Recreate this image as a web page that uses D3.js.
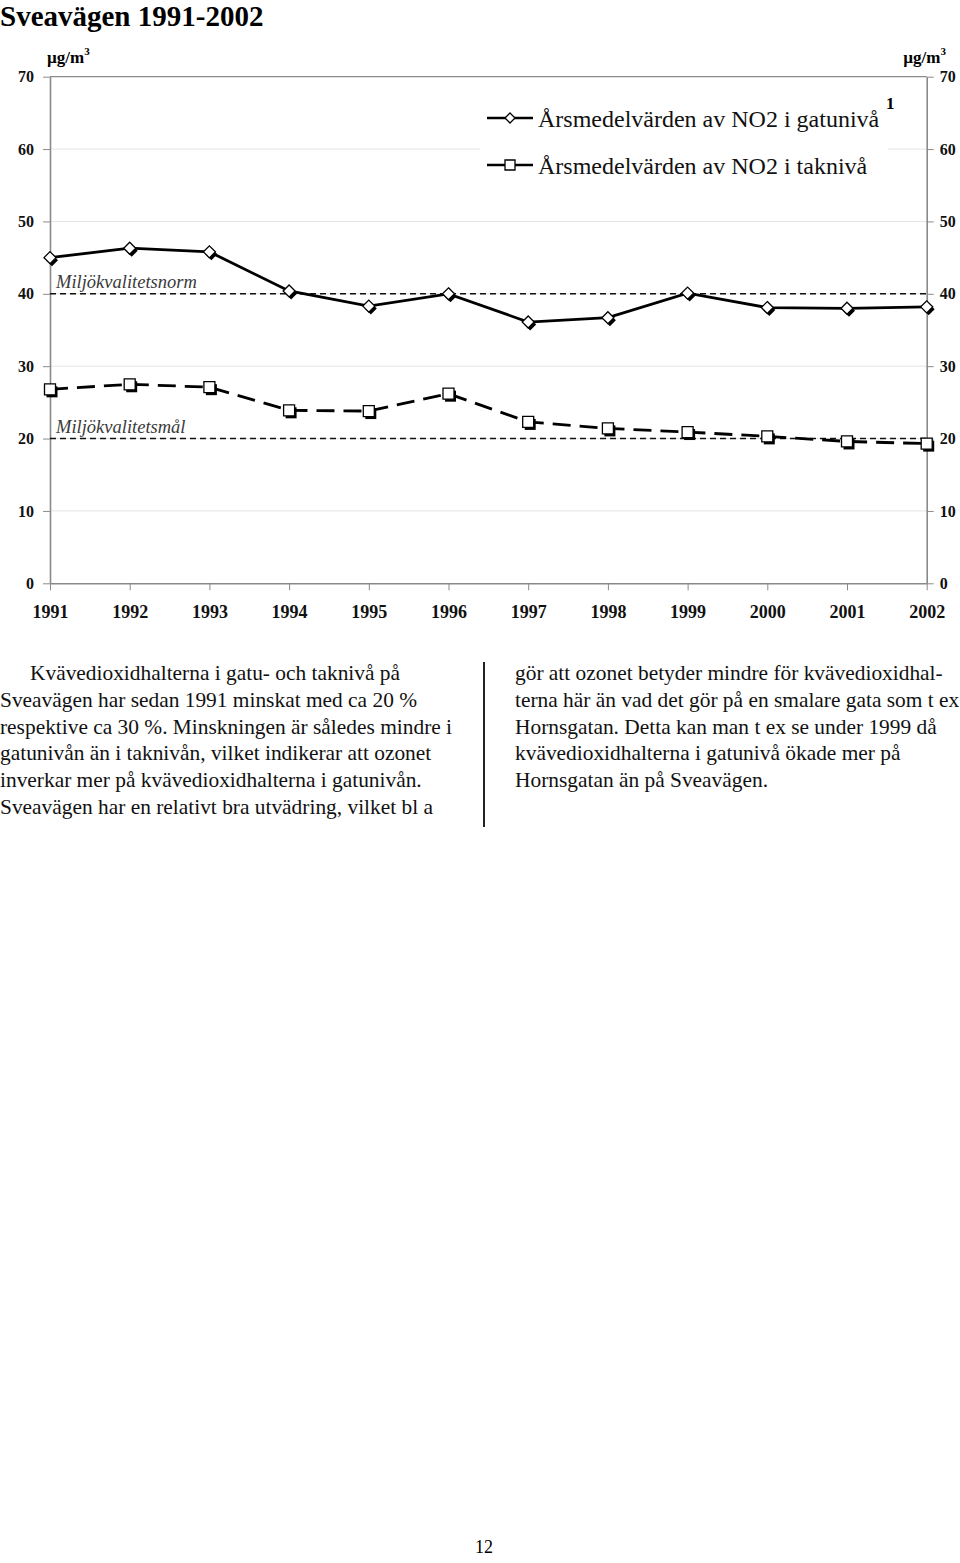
<!DOCTYPE html>
<html><head><meta charset="utf-8">
<script src="https://cdn.jsdelivr.net/npm/d3@7"></script>
<style>
html,body{margin:0;padding:0;background:#fff;}
svg{display:block;font-family:"Liberation Serif","Times New Roman",serif;}
</style></head>
<body>
<svg id="c" width="960" height="1563"></svg>
<script>
// ---- data ----
const years = [1991,1992,1993,1994,1995,1996,1997,1998,1999,2000,2001,2002];
const gatuniva = [45.0,46.3,45.8,40.4,38.3,40.0,36.1,36.7,40.1,38.1,38.0,38.2];
const takniva  = [26.8,27.5,27.1,23.9,23.8,26.2,22.3,21.4,20.9,20.3,19.6,19.3];
const yTicks = [0,10,20,30,40,50,60,70];
const normValue = 40;
const malValue = 20;
const title = "Sveavägen 1991-2002";
const seriesNames = ["Årsmedelvärden av NO2 i gatunivå","Årsmedelvärden av NO2 i taknivå"];
const refLabels = ["Miljökvalitetsnorm","Miljökvalitetsmål"];
const leftText = [
 "Kvävedioxidhalterna i gatu- och taknivå på",
 "Sveavägen har sedan 1991 minskat med ca 20 %",
 "respektive ca 30 %. Minskningen är således mindre i",
 "gatunivån än i taknivån, vilket indikerar att ozonet",
 "inverkar mer på kvävedioxidhalterna i gatunivån.",
 "Sveavägen har en relativt bra utvädring, vilket bl a"
];
const rightText = [
 "gör att ozonet betyder mindre för kvävedioxidhal-",
 "terna här än vad det gör på en smalare gata som t ex",
 "Hornsgatan. Detta kan man t ex se under 1999 då",
 "kvävedioxidhalterna i gatunivå ökade mer på",
 "Hornsgatan än på Sveavägen."
];
const pageNumber = "12";

// ---- layout ----
const svg = d3.select("#c");
const X0 = 50, X1 = 926.7, Y0 = 583.3, Y1 = 76.7;
const x = d3.scaleLinear().domain([1991,2002]).range([X0,X1]);
const y = d3.scaleLinear().domain([0,70]).range([Y0,Y1]);
const axisGray = "#8a8a8a";

svg.append("text").attr("x",0).attr("y",26).attr("font-size",29).attr("font-weight","bold").text(title);

// gridlines
svg.append("g").selectAll("line").data(yTicks.filter(d=>d>0 && d<70)).join("line")
  .attr("x1",X0).attr("x2",X1).attr("y1",d=>y(d)).attr("y2",d=>y(d))
  .attr("stroke","#e4e4e4").attr("stroke-width",1);
// top border
svg.append("line").attr("x1",X0).attr("x2",X1).attr("y1",y(70)).attr("y2",y(70))
  .attr("stroke",axisGray).attr("stroke-width",1.2);

// axes
function styleAxis(g){
  g.select(".domain").attr("stroke",axisGray).attr("stroke-width",1.6);
  g.selectAll(".tick line").attr("stroke",axisGray).attr("stroke-width",1);
  g.selectAll("text").attr("font-family","Liberation Serif").attr("font-weight","bold").attr("fill","#111");
}
svg.append("g").attr("transform",`translate(${X0},0)`)
  .call(d3.axisLeft(y).tickValues(yTicks).tickSize(7).tickPadding(9).tickSizeOuter(0))
  .call(styleAxis).selectAll("text").attr("font-size",16);
svg.append("g").attr("transform",`translate(${X1},0)`)
  .call(d3.axisRight(y).tickValues(yTicks).tickSize(7).tickPadding(6).tickSizeOuter(0))
  .call(styleAxis).selectAll("text").attr("font-size",16);
svg.append("g").attr("transform",`translate(0,${Y0})`)
  .call(d3.axisBottom(x).tickValues(years).tickFormat(d3.format("d")).tickSize(7).tickPadding(15).tickSizeOuter(0))
  .call(styleAxis).selectAll("text").attr("font-size",18);

// units
function unit(xp, anchor){
  const t = svg.append("text").attr("x",xp).attr("y",63).attr("font-size",17).attr("font-weight","bold").attr("text-anchor",anchor);
  t.append("tspan").text("µg/m");
  t.append("tspan").attr("dy",-8).attr("font-size",11).text("3");
}
unit(47,"start");
unit(946,"end");

// reference lines
[[normValue,refLabels[0]],[malValue,refLabels[1]]].forEach(([v,lab])=>{
  svg.append("line").attr("x1",X0).attr("x2",X1).attr("y1",y(v)).attr("y2",y(v))
    .attr("stroke","#111").attr("stroke-width",1.6).attr("stroke-dasharray","6,4");
  svg.append("text").attr("x",56).attr("y",y(v)-6).attr("font-size",18.5).attr("font-style","italic")
    .attr("fill","#3a3a3a").text(lab);
});

// series
const line = d3.line().x((d,i)=>x(years[i])).y(d=>y(d));
svg.append("path").datum(takniva).attr("d",line).attr("fill","none").attr("stroke","#000")
  .attr("stroke-width",2.8).attr("stroke-dasharray","18,9");
svg.append("path").datum(gatuniva).attr("d",line).attr("fill","none").attr("stroke","#000")
  .attr("stroke-width",2.8);

const diamond = (cx,cy,r)=>`M${cx},${cy-r}L${cx+r},${cy}L${cx},${cy+r}L${cx-r},${cy}Z`;
const square = (cx,cy,r)=>`M${cx-r},${cy-r}H${cx+r}V${cy+r}H${cx-r}Z`;
function markers(data, shape, r){
  const g = svg.append("g");
  g.selectAll("path.s").data(data).join("path").attr("class","s")
    .attr("d",(d,i)=>shape(x(years[i])+2,y(d)+2.5,r)).attr("fill","#000");
  g.selectAll("path.f").data(data).join("path").attr("class","f")
    .attr("d",(d,i)=>shape(x(years[i]),y(d),r)).attr("fill","#fff").attr("stroke","#000").attr("stroke-width",1.3);
}
markers(takniva, square, 5.5);
markers(gatuniva, diamond, 6);

// legend
svg.append("rect").attr("x",480).attr("y",88).attr("width",408).attr("height",102).attr("fill","#fff");
const legY = [118,165];
legY.forEach((ly,i)=>{
  svg.append("line").attr("x1",487).attr("x2",533).attr("y1",ly).attr("y2",ly).attr("stroke","#000").attr("stroke-width",2.6);
  svg.append("path").attr("d",(i===0?diamond:square)(510,ly,5)).attr("fill","#fff").attr("stroke","#000").attr("stroke-width",1.3);
  svg.append("text").attr("x",538).attr("y",ly+9).attr("font-size",24).attr("fill","#111").text(seriesNames[i]);
});
svg.append("text").attr("x",886).attr("y",109).attr("font-size",17).attr("font-weight","bold").text("1");

// body text
const lh = 26.8;
svg.append("g").selectAll("text").data(leftText).join("text")
  .attr("x",(d,i)=>i===0?30:0).attr("y",(d,i)=>680+i*lh).attr("font-size",21.4).attr("fill","#111").text(d=>d);
svg.append("g").selectAll("text").data(rightText).join("text")
  .attr("x",515).attr("y",(d,i)=>680+i*lh).attr("font-size",21.4).attr("fill","#111").text(d=>d);
svg.append("rect").attr("x",483).attr("y",662).attr("width",2).attr("height",165).attr("fill","#222");

svg.append("text").attr("x",484).attr("y",1553).attr("text-anchor","middle").attr("font-size",18).text(pageNumber);
</script>
</body></html>
